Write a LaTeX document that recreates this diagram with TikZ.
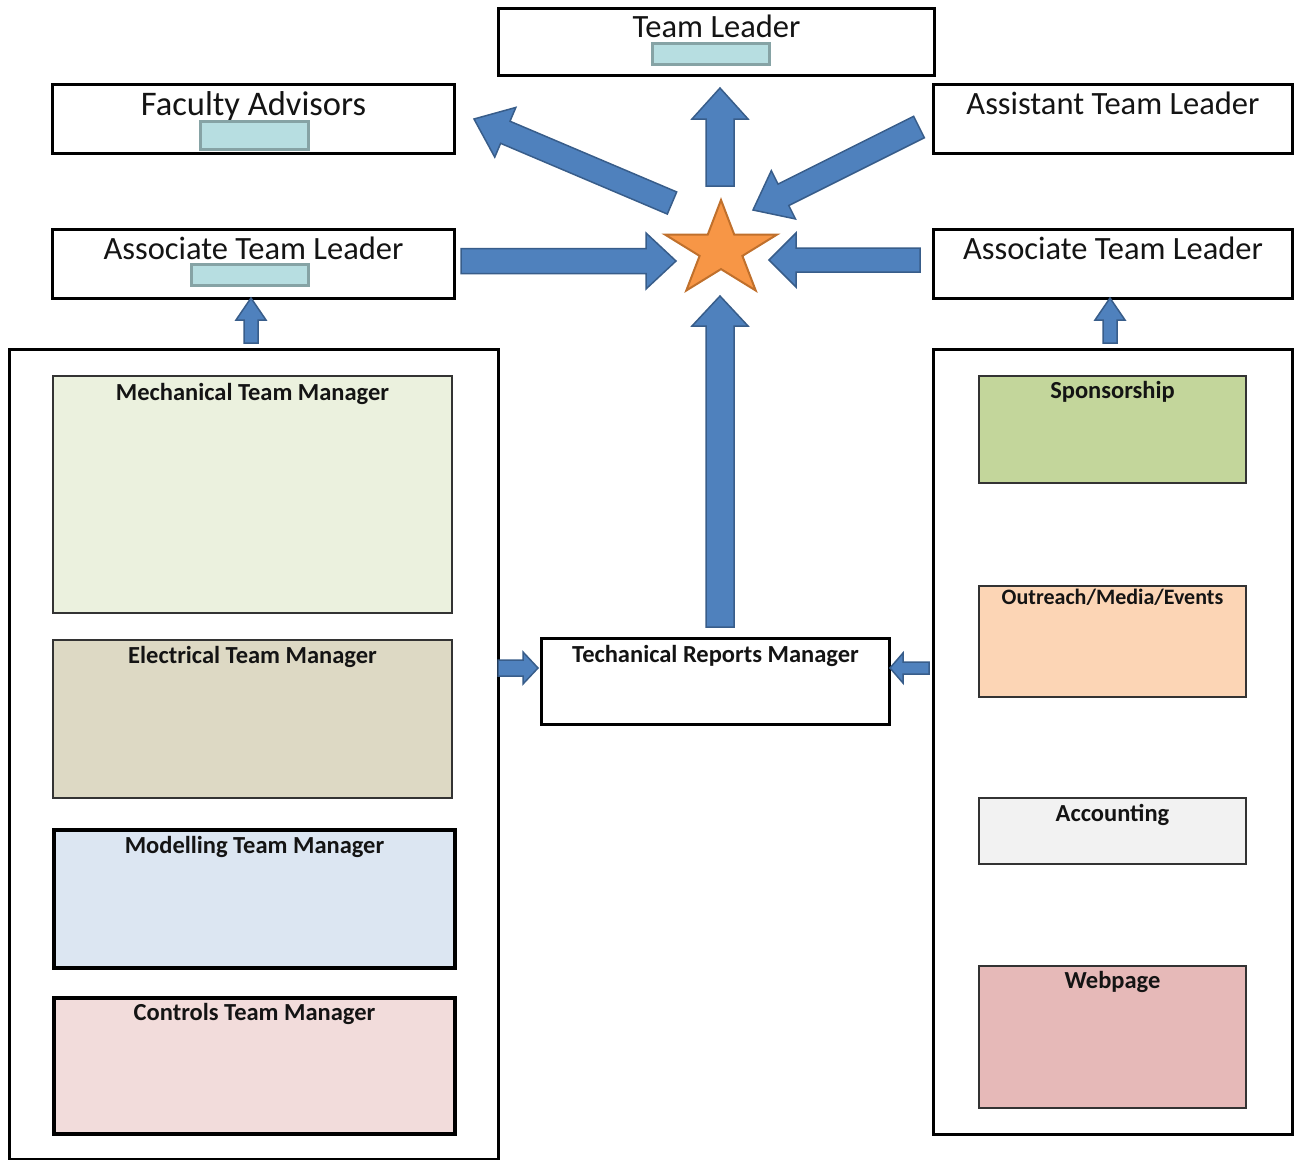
\documentclass[tikz,border=0pt]{standalone}
\usepackage{fontspec}
\setmainfont{Carlito}
\usetikzlibrary{calc}
\definecolor{txt}{HTML}{141414}
\definecolor{arrfill}{HTML}{4F81BD}
\definecolor{arrline}{HTML}{385D8A}
\definecolor{starfill}{HTML}{F79646}
\definecolor{starline}{HTML}{C0702C}
\definecolor{barfill}{HTML}{B7DEE1}
\definecolor{barline}{HTML}{86A3A5}
\definecolor{cmech}{HTML}{EBF1DE}
\definecolor{celec}{HTML}{DDD9C4}
\definecolor{cmodel}{HTML}{DCE6F2}
\definecolor{cctrl}{HTML}{F2DCDB}
\definecolor{cspon}{HTML}{C3D69B}
\definecolor{coutr}{HTML}{FCD5B5}
\definecolor{cacct}{HTML}{F2F2F2}
\definecolor{cweb}{HTML}{E6B9B8}
\tikzset{
  bigbox/.style={draw=black, line width=3pt, fill=white, anchor=north west, inner sep=0pt},
  subbox/.style={draw=black!80, line width=2pt, anchor=north west, inner sep=0pt},
  thickbox/.style={draw=black, line width=4pt, anchor=north west, inner sep=0pt},
  bar/.style={draw=barline, line width=3pt, fill=barfill, anchor=north west, inner sep=0pt},
  hdr/.style={font=\fontsize{32.5}{38}\selectfont, text=txt, anchor=base, inner sep=0pt},
  sub/.style={font=\fontsize{24.5}{29}\selectfont\bfseries, text=txt, anchor=base, inner sep=0pt},
  barrow/.style={fill=arrfill, draw=arrline, line width=1.5pt, line join=miter},
}
% block arrow: #1 from, #2 to, #3 half shaft, #4 half head, #5 head length
\newcommand\blockarr[5]{%
  \coordinate (bap) at ($(#2)!#5!(#1)$);
  \draw[barrow] ($(#1)!#3!90:(#2)$) -- ($(bap)!#3!-90:(#1)$) -- ($(bap)!#4!-90:(#1)$)
    -- (#2) -- ($(bap)!#4!90:(#1)$) -- ($(bap)!#3!90:(#1)$) -- ($(#1)!#3!-90:(#2)$) -- cycle;}
\begin{document}
\begin{tikzpicture}[x=1pt, y=-1pt]
\useasboundingbox (0,0) rectangle (1294,1160);
\fill[white] (0,0) rectangle (1294,1160);

% top boxes
\node[bigbox, minimum width=436, minimum height=67] (tl) at (497,7) {};
\node[bigbox, minimum width=402, minimum height=69] (fa) at (51,83) {};
\node[bigbox, minimum width=359, minimum height=69] (atl) at (932,83) {};
\node[bigbox, minimum width=402, minimum height=69] (asl) at (51,228) {};
\node[bigbox, minimum width=359, minimum height=69] (asr) at (932,228) {};

\node[hdr] (tlt) at ($(tl.north)+(0,30)$) {Team Leader};
\node[hdr, font=\fontsize{34.5}{40}\selectfont] (fat) at ($(fa.north)+(0,32)$) {Faculty Advisors};
\node[hdr] (atlt) at ($(atl.north)+(0,31)$) {Assistant Team Leader};
\node[hdr] (aslt) at ($(asl.north)+(0,31)$) {Associate Team Leader};
\node[hdr] (asrt) at ($(asr.north)+(0,31)$) {Associate Team Leader};

\node[bar, minimum width=117, minimum height=21] (tlbar) at (651,42) {};
\node[bar, minimum width=108, minimum height=28] (fabar) at (199,120) {};
\node[bar, minimum width=117, minimum height=21] (asbar) at (190,263) {};

% containers
\node[bigbox, minimum width=489, minimum height=810] (lc) at (8,348) {};
\node[bigbox, minimum width=359, minimum height=785] (rc) at (932,348) {};

% left sub boxes
\node[subbox, fill=cmech, minimum width=399, minimum height=237] (mech) at (52,375) {};
\node[subbox, fill=celec, minimum width=399, minimum height=158] (elec) at (52,639) {};
\node[thickbox, fill=cmodel, minimum width=401, minimum height=138] (model) at (52,828) {};
\node[thickbox, fill=cctrl, minimum width=401, minimum height=136] (ctrl) at (52,996) {};
\node[sub] (mecht) at ($(mech.north)+(0,25)$) {Mechanical Team Manager};
\node[sub] (elect) at ($(elec.north)+(0,24)$) {Electrical Team Manager};
\node[sub] (modelt) at ($(model.north)+(0,25)$) {Modelling Team Manager};
\node[sub] (ctrlt) at ($(ctrl.north)+(0,24)$) {Controls Team Manager};

% right sub boxes
\node[subbox, fill=cspon, minimum width=267, minimum height=107] (spon) at (978,375) {};
\node[subbox, fill=coutr, minimum width=267, minimum height=111] (outr) at (978,585) {};
\node[subbox, fill=cacct, minimum width=267, minimum height=66] (acct) at (978,797) {};
\node[subbox, fill=cweb, minimum width=267, minimum height=142] (web) at (978,965) {};
\node[sub] (spont) at ($(spon.north)+(0,23)$) {Sponsorship};
\node[sub, font=\fontsize{22}{26}\selectfont\bfseries] (outrt) at ($(outr.north)+(0,19)$) {Outreach/Media/Events};
\node[sub] (acctt) at ($(acct.north)+(0,24)$) {Accounting};
\node[sub] (webt) at ($(web.north)+(0,23)$) {Webpage};

% technical reports manager
\node[bigbox, minimum width=348, minimum height=86] (trm) at (540,637) {};
\node[sub] (trmt) at ($(trm.north)+(0,25)$) {Techanical Reports Manager};

% star
\coordinate (star) at (721,250);
\draw[fill=starfill, draw=starline, line width=2pt, line join=miter]
  (721,200) -- (734.2,234.5) -- (777.1,234.5) -- (742.4,255.9) -- (755.7,290.5)
  -- (721,269.1) -- (686.3,290.5) -- (699.6,255.9) -- (664.9,234.5) -- (707.8,234.5) -- cycle;

% arrow end points
\coordinate (a1s) at (720,186);  \coordinate (a1e) at (720,88);
\coordinate (a2s) at (672,203);  \coordinate (a2e) at (474,119);
\coordinate (a3s) at (919,127);  \coordinate (a3e) at (753,210);
\coordinate (a4s) at (461,261);  \coordinate (a4e) at (676,261);
\coordinate (a5s) at (920,260);  \coordinate (a5e) at (769,260);
\coordinate (a6s) at (720,627);  \coordinate (a6e) at (720,296);
\coordinate (a7s) at (251,343);  \coordinate (a7e) at (251,298);
\coordinate (a8s) at (1110,343); \coordinate (a8e) at (1110,298);
\coordinate (a9s) at (498,668);  \coordinate (a9e) at (538,668);
\coordinate (a10s) at (929,668); \coordinate (a10e) at (890,668);

\blockarr{a1s}{a1e}{14pt}{28pt}{31pt}
\blockarr{a2s}{a2e}{12pt}{27pt}{34pt}
\blockarr{a3s}{a3e}{12pt}{27pt}{34pt}
\blockarr{a4s}{a4e}{12.5pt}{28pt}{30pt}
\blockarr{a5s}{a5e}{12pt}{27pt}{27pt}
\blockarr{a6s}{a6e}{14pt}{28pt}{30pt}
\blockarr{a7s}{a7e}{7pt}{15pt}{22pt}
\blockarr{a8s}{a8e}{7pt}{15pt}{22pt}
\blockarr{a9s}{a9e}{8pt}{16pt}{15pt}
\blockarr{a10s}{a10e}{6pt}{15pt}{13pt}
\end{tikzpicture}
\end{document}
